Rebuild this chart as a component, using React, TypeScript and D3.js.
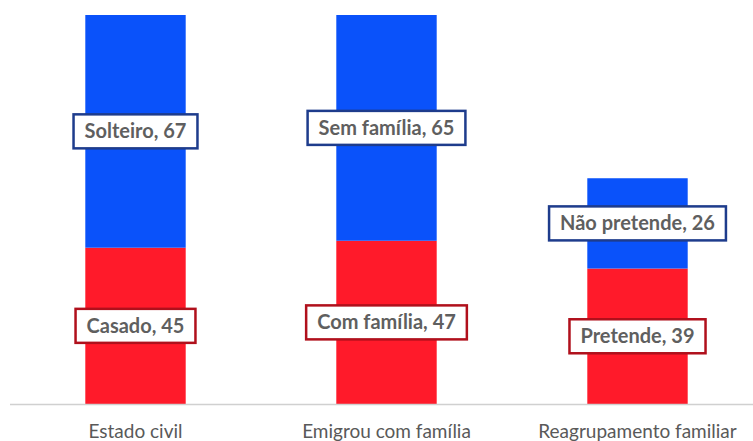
import React, { useEffect, useRef } from "react";
import * as d3 from "d3";

const categories = ["Estado civil", "Emigrou com família", "Reagrupamento familiar"];
const bottomNames = ["Casado", "Com família", "Pretende"];
const bottomValues = [45, 47, 39];
const topNames = ["Solteiro", "Sem família", "Não pretende"];
const topValues = [67, 65, 26];

const W = 753;
const H = 441;

export default function App() {
  const ref = useRef<SVGSVGElement>(null);

  useEffect(() => {
    document.body.style.margin = "0";
    const svg = d3.select(ref.current);
    svg.selectAll("*").remove();

    const x = d3.scaleBand<string>().domain(categories).range([10, 763]).paddingInner(0.6).paddingOuter(0.3);
    const y = d3.scaleLinear().domain([0, 112]).range([404, 15]);

    const blue = "#0A52FA";
    const red = "#FF1A2A";
    const blueBorder = "#1E3C8C";
    const redBorder = "#B0101C";

    const g = svg.append("g");

    categories.forEach((c, i) => {
      const x0 = x(c)!;
      const bw = x.bandwidth();
      const b = bottomValues[i];
      const t = topValues[i];
      g.append("rect").attr("x", x0).attr("width", bw).attr("y", y(b)).attr("height", y(0) - y(b)).attr("fill", red);
      g.append("rect").attr("x", x0).attr("width", bw).attr("y", y(b + t)).attr("height", y(b) - y(b + t)).attr("fill", blue);
    });

    svg.append("line").attr("x1", 10).attr("x2", W).attr("y1", 404.5).attr("y2", 404.5).attr("stroke", "#D0D0D0").attr("stroke-width", 1.5);

    svg.selectAll("text.cat").data(categories).enter().append("text")
      .attr("class", "cat")
      .attr("x", (d) => x(d)! + x.bandwidth() / 2)
      .attr("y", 438)
      .attr("text-anchor", "middle")
      .attr("font-family", "Lato, 'Open Sans', sans-serif")
      .attr("font-size", 19)
      .attr("fill", "#595959")
      .text((d) => d);

    const addLabel = (cx: number, cy: number, txt: string, border: string) => {
      const lg = svg.append("g");
      const rect = lg.append("rect");
      const text = lg.append("text")
        .attr("x", cx).attr("y", cy + 7)
        .attr("text-anchor", "middle")
        .attr("font-family", "Lato, 'Open Sans', sans-serif")
        .attr("font-weight", "bold")
        .attr("font-size", 20)
        .attr("fill", "#5F5F5F")
        .text(txt);
      const w = (text.node() as SVGTextElement).getComputedTextLength();
      const bw = w + 22;
      rect.attr("x", cx - bw / 2).attr("y", cy - 17).attr("width", bw).attr("height", 34)
        .attr("fill", "white").attr("stroke", border).attr("stroke-width", 2.5);
    };

    categories.forEach((c, i) => {
      const cx = x(c)! + x.bandwidth() / 2;
      const b = bottomValues[i];
      const t = topValues[i];
      addLabel(cx, (y(0) + y(b)) / 2, `${bottomNames[i]}, ${b}`, redBorder);
      addLabel(cx, (y(b) + y(b + t)) / 2, `${topNames[i]}, ${t}`, blueBorder);
    });
  }, []);

  return <svg ref={ref} width={W} height={H} style={{ display: "block", background: "white" }} />;
}
